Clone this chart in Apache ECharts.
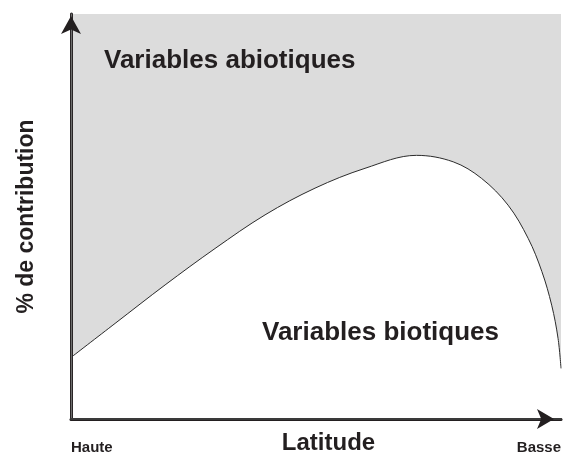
<!DOCTYPE html>
<html>
<head>
<meta charset="utf-8">
<script src="https://cdn.jsdelivr.net/npm/echarts@6/dist/echarts.min.js"></script>
<style>
  html, body { margin: 0; padding: 0; background: #fff; }
  #chart { width: 565px; height: 458px; }
</style>
</head>
<body>
<div id="chart"></div>
<script>
// Latitude position along the gradient (0 = high latitude, 100 = low latitude)
const latitude = [0, 9, 19.2, 29.4, 39.6, 49.8, 60, 70.5, 78, 83.8, 89.2, 93.3, 96.1, 98.1, 99.4, 100];
// Share of the biotic variables in the total contribution (%)
const bioticShare = [15.2, 23.6, 33.1, 42.1, 50.4, 57.0, 61.9, 65.1, 63.5, 59.4, 52.8, 44.6, 36.4, 28.1, 19.9, 12.5];
// Labels at both ends of the latitude axis
const latitudeEnds = ['Haute', 'Basse'];
const regionLabels = ['Variables abiotiques', 'Variables biotiques'];
const axisTitles = { x: 'Latitude', y: '% de contribution' };

const FONT = '"Liberation Sans", Arial, sans-serif';
const INK = '#231f20';

const chart = echarts.init(document.getElementById('chart'), null, { renderer: 'canvas' });

const points = latitude.map((x, i) => [x, bioticShare[i]]);

chart.setOption({
  animation: false,
  backgroundColor: '#ffffff',
  grid: {
    left: 71, right: 4, top: 14, bottom: 39,
    containLabel: false, outerBoundsMode: 'none',
    show: true, backgroundColor: '#dcdcdc', borderWidth: 0
  },
  xAxis: [{
    type: 'value', min: 0, max: 100, interval: 100,
    position: 'bottom', z: 5,
    axisLine: {
      show: true, onZero: false,
      lineStyle: { color: INK, width: 3 },
      symbol: ['none', 'arrow'], symbolSize: [15, 17], symbolOffset: [0, -7]
    },
    axisTick: { show: false },
    splitLine: { show: false },
    axisLabel: {
      show: true, margin: 21,
      fontFamily: FONT, fontWeight: 'bold', fontSize: 15, color: INK,
      alignMinLabel: 'left', alignMaxLabel: 'right',
      formatter: v => (v === 0 ? latitudeEnds[0] : latitudeEnds[1])
    },
    name: axisTitles.x, nameLocation: 'middle', nameGap: 12,
    nameMoveOverlap: false,
    nameTextStyle: {
      fontFamily: FONT, fontWeight: 'bold', fontSize: 24, color: INK,
      padding: [0, 0, 0, 25]
    }
  }, {
    // top edge of the plotting frame
    type: 'value', min: 0, max: 100, position: 'top', z: 5,
    axisLine: { show: true, lineStyle: { color: '#3a3a3a', width: 2 } },
    axisTick: { show: false }, axisLabel: { show: false }, splitLine: { show: false }
  }],
  yAxis: [{
    type: 'value', min: 0, max: 100, interval: 100,
    position: 'left', z: 5,
    axisLine: {
      show: true, onZero: false,
      lineStyle: { color: INK, width: 3 },
      symbol: ['none', 'arrow'], symbolSize: [15, 18], symbolOffset: [0, -2]
    },
    axisTick: { show: false },
    splitLine: { show: false },
    axisLabel: { show: false },
    name: axisTitles.y, nameLocation: 'middle', nameGap: 33, nameRotate: 90,
    nameTextStyle: { fontFamily: FONT, fontWeight: 'bold', fontSize: 23, color: INK }
  }, {
    // right edge of the plotting frame
    type: 'value', min: 0, max: 100, position: 'right', z: 5,
    axisLine: { show: true, lineStyle: { color: '#6e6e6e', width: 1.2 } },
    axisTick: { show: false }, axisLabel: { show: false }, splitLine: { show: false }
  }],
  series: [{
    type: 'line',
    data: points,
    smooth: 0.35,
    showSymbol: false,
    lineStyle: { color: '#2b2b2b', width: 1 },
    areaStyle: { color: '#ffffff', opacity: 1, origin: 'start' },
    z: 2
  }],
  graphic: [{
    type: 'text', left: 104, top: 48, z: 10,
    style: { text: regionLabels[0], font: 'bold 26px ' + FONT, fill: INK }
  }, {
    type: 'text', left: 262, top: 320, z: 10,
    style: { text: regionLabels[1], font: 'bold 26px ' + FONT, fill: INK }
  }]
});
</script>
</body>
</html>
